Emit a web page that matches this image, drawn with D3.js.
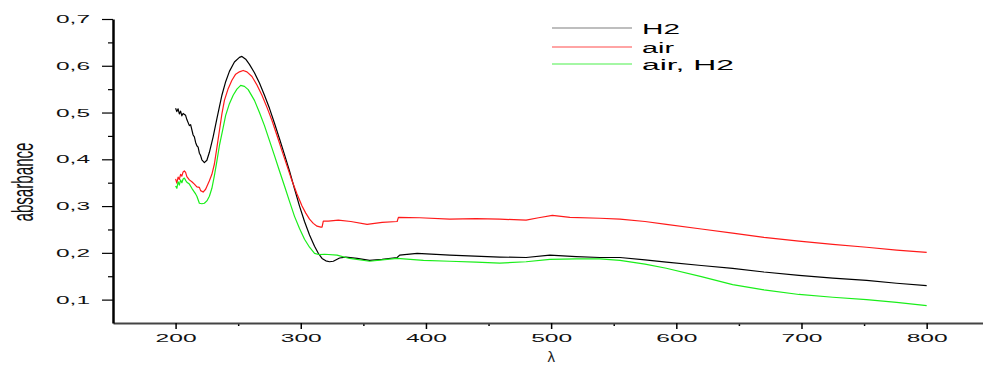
<!DOCTYPE html>
<html>
<head>
<meta charset="utf-8">
<script src="https://cdn.jsdelivr.net/npm/d3@7/dist/d3.min.js"></script>
<style>
  body { margin: 0; background: #fff; }
  svg { display: block; font-family: "Liberation Sans", Arial, sans-serif; }
</style>
</head>
<body>
<div id="chart"></div>
<script>
// spectra: [wavelength, absorbance]
const h2Spectrum = [
  [200, 0.509], [201, 0.502], [202, 0.508], [203, 0.497], [204, 0.503], [205, 0.493], [206, 0.498],
  [208, 0.494], [209, 0.485], [211, 0.472], [212, 0.474], [214, 0.452], [215, 0.448], [216, 0.436],
  [217, 0.429], [218, 0.426], [219, 0.413], [220, 0.408], [221, 0.399], [223, 0.393], [225, 0.398],
  [227, 0.415], [230, 0.448], [233, 0.487], [237, 0.537], [240, 0.566], [243, 0.588], [247, 0.608],
  [251, 0.618], [253, 0.620], [256, 0.614], [259, 0.603], [263, 0.585], [267, 0.563], [271, 0.537],
  [275, 0.509], [279, 0.477], [283, 0.444], [287, 0.410], [291, 0.375], [295, 0.337], [299, 0.300],
  [303, 0.267], [307, 0.238], [311, 0.214], [314, 0.199], [317, 0.188], [320, 0.183], [323, 0.181],
  [326, 0.182], [331, 0.189], [336, 0.191], [345, 0.188], [355, 0.184], [365, 0.186], [377, 0.190],
  [379, 0.195], [393, 0.199], [419, 0.195], [459, 0.191], [480, 0.190], [499, 0.195], [520, 0.192],
  [539, 0.190], [555, 0.190], [575, 0.185], [592, 0.180], [620, 0.173], [645, 0.167], [670, 0.159],
  [698, 0.152], [725, 0.146], [752, 0.141], [776, 0.135], [800, 0.130]
];

const airSpectrum = [
  [200, 0.358], [201, 0.349], [202, 0.362], [203, 0.357], [204, 0.368], [205, 0.364], [206, 0.373],
  [207, 0.375], [208, 0.372], [209, 0.363], [211, 0.356], [213, 0.352], [215, 0.347], [217, 0.341],
  [219, 0.340], [220, 0.333], [222, 0.330], [224, 0.336], [227, 0.354], [229, 0.368], [231, 0.390],
  [233, 0.425], [235, 0.461], [237, 0.497], [239, 0.526], [242, 0.551], [245, 0.569], [248, 0.582],
  [251, 0.587], [254, 0.590], [257, 0.587], [261, 0.577], [265, 0.559], [269, 0.537], [273, 0.511],
  [277, 0.483], [281, 0.451], [285, 0.418], [289, 0.386], [293, 0.354], [297, 0.326], [301, 0.300],
  [304, 0.285], [307, 0.272], [310, 0.263], [313, 0.257], [316, 0.255], [317, 0.255], [318, 0.268],
  [322, 0.268], [330, 0.270], [340, 0.267], [353, 0.261], [365, 0.265], [377, 0.267], [378, 0.276],
  [395, 0.275], [419, 0.272], [440, 0.273], [459, 0.272], [480, 0.270], [490, 0.275], [501, 0.280],
  [515, 0.276], [539, 0.274], [555, 0.272], [575, 0.267], [592, 0.261], [620, 0.251], [645, 0.242],
  [670, 0.233], [698, 0.225], [725, 0.218], [752, 0.212], [776, 0.206], [800, 0.201]
];

const airH2Spectrum = [
  [200, 0.343], [201, 0.338], [202, 0.352], [203, 0.345], [204, 0.356], [205, 0.350], [206, 0.358],
  [207, 0.360], [208, 0.355], [209, 0.351], [211, 0.347], [213, 0.338], [215, 0.330], [216, 0.326],
  [217, 0.321], [219, 0.306], [221, 0.305], [223, 0.306], [225, 0.311], [227, 0.321], [229, 0.338],
  [231, 0.365], [233, 0.396], [235, 0.429], [238, 0.468], [240, 0.494], [243, 0.519], [246, 0.537],
  [249, 0.550], [252, 0.558], [255, 0.556], [258, 0.549], [263, 0.526], [267, 0.500], [271, 0.472],
  [275, 0.440], [279, 0.408], [283, 0.375], [287, 0.343], [291, 0.310], [295, 0.278], [299, 0.252],
  [303, 0.229], [307, 0.212], [311, 0.199], [315, 0.196], [319, 0.197], [329, 0.195], [339, 0.188],
  [355, 0.182], [365, 0.185], [377, 0.188], [398, 0.184], [419, 0.182], [440, 0.180], [459, 0.178],
  [480, 0.181], [499, 0.186], [520, 0.187], [539, 0.187], [555, 0.184], [575, 0.176], [592, 0.167],
  [620, 0.149], [645, 0.132], [670, 0.121], [698, 0.111], [725, 0.105], [752, 0.100], [776, 0.094],
  [800, 0.087]
];

const seriesNames = ["H2", "air", "air, H2"];
const seriesData = [h2Spectrum, airSpectrum, airH2Spectrum];
const seriesColors = ["#000000", "#ff1a1a", "#1aee1a"];
const legendLineColors = ["#a8a8a8", "#ff4a4a", "#4af04a"];

const xTicks = [200, 300, 400, 500, 600, 700, 800];
const xMinorTicks = [150, 250, 350, 450, 550, 650, 750, 850];
const yTicks = [0.1, 0.2, 0.3, 0.4, 0.5, 0.6, 0.7];
const yMinorTicks = [0.05, 0.15, 0.25, 0.35, 0.45, 0.55, 0.65];

const width = 983;
const height = 367;
const margin = { top: 19, right: 0, bottom: 45, left: 113 };

const svg = d3.select("#chart")
  .append("svg")
  .attr("width", width)
  .attr("height", height);

const x = d3.scaleLinear()
  .domain([150, 845])
  .range([margin.left, width - margin.right]);

const y = d3.scaleLinear()
  .domain([0.05, 0.7])
  .range([height - margin.bottom + 1, margin.top]);

const commaFormat = (d) => d3.format(".1f")(d).replace(".", ",");

// minor ticks first so the axis lines sit on top
svg.append("g")
  .attr("transform", `translate(0,${y(0.05)})`)
  .call(d3.axisBottom(x).tickValues(xMinorTicks.filter((t) => t > 150)).tickSize(3).tickFormat(""))
  .call((g) => g.select(".domain").remove())
  .call((g) => g.selectAll("line").attr("stroke-width", 1.5));

svg.append("g")
  .attr("transform", `translate(${margin.left},0)`)
  .call(d3.axisLeft(y).tickValues(yMinorTicks.filter((t) => t > 0.05)).tickSize(5).tickFormat(""))
  .call((g) => g.select(".domain").remove())
  .call((g) => g.selectAll("line").attr("stroke-width", 1.2));

const xAxis = svg.append("g")
  .attr("transform", `translate(0,${y(0.05)})`)
  .call(d3.axisBottom(x).tickValues(xTicks).tickSize(6).tickSizeOuter(0).tickPadding(5));

xAxis.select(".domain").attr("stroke", "#444").attr("stroke-width", 2);
xAxis.selectAll("line").attr("stroke-width", 1.5);
xAxis.selectAll("text")
  .attr("font-size", 11.5)
  .attr("fill", "#111")
  .attr("textLength", 41)
  .attr("lengthAdjust", "spacingAndGlyphs");

const yAxis = svg.append("g")
  .attr("transform", `translate(${margin.left},0)`)
  .call(d3.axisLeft(y).tickValues(yTicks).tickFormat(commaFormat).tickSize(11).tickSizeOuter(0).tickPadding(12));

yAxis.select(".domain").attr("stroke", "#000").attr("stroke-width", 2.5);
yAxis.selectAll("line").attr("stroke-width", 1.2);
yAxis.selectAll("text")
  .attr("font-size", 11.5)
  .attr("fill", "#111")
  .attr("textLength", 34)
  .attr("lengthAdjust", "spacingAndGlyphs");

svg.append("text")
  .attr("x", x(500))
  .attr("y", 362)
  .attr("text-anchor", "middle")
  .attr("font-size", 15)
  .attr("fill", "#222")
  .text("λ");

svg.append("text")
  .attr("transform", "translate(33,182) rotate(-90)")
  .attr("text-anchor", "middle")
  .attr("font-size", 29)
  .attr("font-family", "'Liberation Sans Narrow', 'Arial Narrow', sans-serif")
  .attr("textLength", 79)
  .attr("lengthAdjust", "spacingAndGlyphs")
  .attr("fill", "#111")
  .text("absarbance");

const line = d3.line()
  .x((d) => x(d[0]))
  .y((d) => y(d[1]));

svg.append("g")
  .selectAll("path")
  .data(seriesData)
  .join("path")
  .attr("d", line)
  .attr("fill", "none")
  .attr("stroke", (d, i) => seriesColors[i])
  .attr("stroke-width", 1.2)
  .attr("stroke-linejoin", "round");

const legendRows = [28, 47, 64];
const legendTextWidths = [38, 32, 92];

const legend = svg.append("g");

seriesNames.forEach((name, i) => {
  legend.append("line")
    .attr("x1", 552)
    .attr("x2", 632)
    .attr("y1", legendRows[i])
    .attr("y2", legendRows[i])
    .attr("stroke", legendLineColors[i])
    .attr("stroke-width", i === 0 ? 1.6 : 1.1);

  legend.append("text")
    .attr("x", 642)
    .attr("y", legendRows[i] + 5.5)
    .attr("font-size", 15.5)
    .attr("fill", "#000")
    .attr("textLength", legendTextWidths[i])
    .attr("lengthAdjust", "spacingAndGlyphs")
    .text(name);
});
</script>
</body>
</html>
